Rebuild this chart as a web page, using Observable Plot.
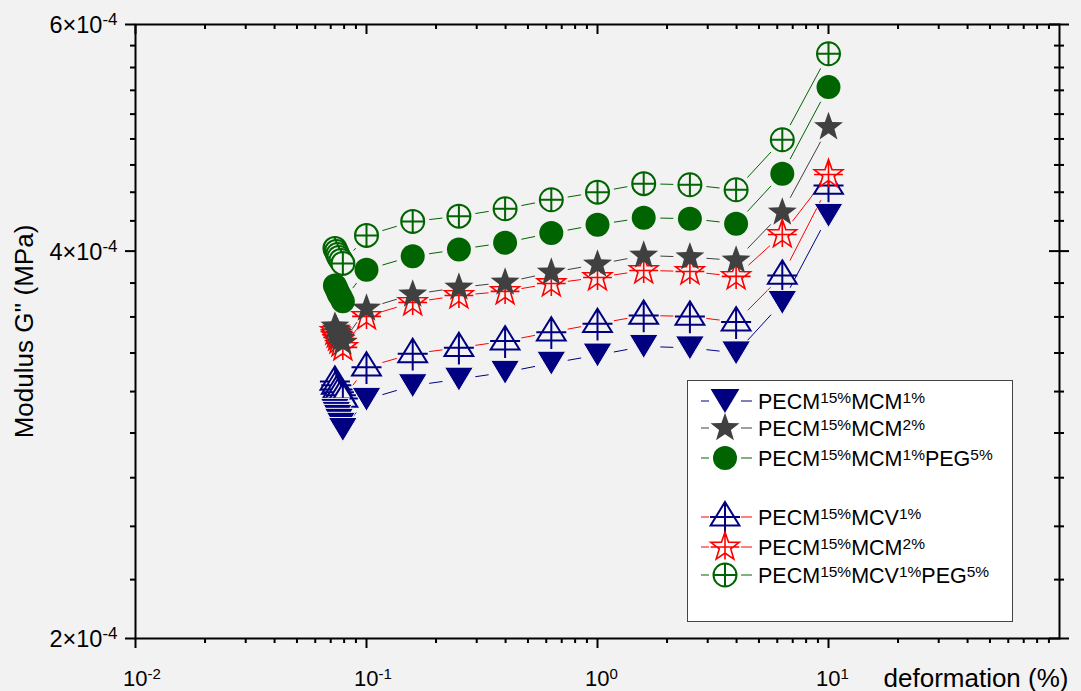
<!DOCTYPE html>
<html>
<head>
<meta charset="utf-8">
<script src="https://cdn.jsdelivr.net/npm/d3@7"></script>
<script src="https://cdn.jsdelivr.net/npm/@observablehq/plot@0.6"></script>
<style>
  html, body { margin: 0; padding: 0; background: #f2f2f2; }
  #chart { width: 1081px; height: 691px; }
</style>
</head>
<body>
<div id="chart"></div>
<script>
// ---------------- data ----------------
const strain = [0.073, 0.074, 0.075, 0.076, 0.0775, 0.079,
  0.1, 0.1585, 0.2512, 0.3981, 0.631, 1, 1.585, 2.512, 3.981, 6.31, 10];

const pecmMcm1 = [3.008e-4, 2.992e-4, 2.976e-4, 2.955e-4, 2.934e-4, 2.907e-4,
  3.068e-4, 3.144e-4, 3.181e-4, 3.220e-4, 3.273e-4, 3.321e-4, 3.373e-4, 3.364e-4, 3.334e-4, 3.649e-4, 4.264e-4];
const pecmMcm2 = [3.496e-4, 3.477e-4, 3.459e-4, 3.440e-4, 3.422e-4, 3.397e-4,
  3.610e-4, 3.702e-4, 3.748e-4, 3.782e-4, 3.850e-4, 3.906e-4, 3.969e-4, 3.957e-4, 3.934e-4, 4.287e-4, 4.994e-4];
const pecmMcm1Peg5 = [3.762e-4, 3.742e-4, 3.722e-4, 3.702e-4, 3.682e-4, 3.656e-4,
  3.869e-4, 3.964e-4, 4.012e-4, 4.061e-4, 4.131e-4, 4.194e-4, 4.246e-4, 4.239e-4, 4.201e-4, 4.594e-4, 5.364e-4];
const pecmMcv1 = [3.168e-4, 3.146e-4, 3.123e-4, 3.107e-4, 3.090e-4, 3.073e-4,
  3.250e-4, 3.329e-4, 3.365e-4, 3.405e-4, 3.460e-4, 3.513e-4, 3.565e-4, 3.559e-4, 3.523e-4, 3.830e-4, 4.499e-4];
const pecmMcm2b = [3.465e-4, 3.446e-4, 3.428e-4, 3.409e-4, 3.391e-4, 3.367e-4,
  3.559e-4, 3.649e-4, 3.695e-4, 3.722e-4, 3.775e-4, 3.816e-4, 3.864e-4, 3.857e-4, 3.823e-4, 4.121e-4, 4.588e-4];
const pecmMcv1Peg5 = [4.019e-4, 3.998e-4, 3.976e-4, 3.955e-4, 3.934e-4, 3.913e-4,
  4.114e-4, 4.218e-4, 4.258e-4, 4.315e-4, 4.385e-4, 4.445e-4, 4.513e-4, 4.504e-4, 4.464e-4, 4.882e-4, 5.694e-4];

const seriesLabels = [
  "PECM^{15%}MCM^{1%}",
  "PECM^{15%}MCM^{2%}",
  "PECM^{15%}MCM^{1%}PEG^{5%}",
  "PECM^{15%}MCV^{1%}",
  "PECM^{15%}MCM^{2%}",
  "PECM^{15%}MCV^{1%}PEG^{5%}"
];

const xMajorTicks = [0.01, 0.1, 1, 10];
const xTickLabels = ["10^{-2}", "10^{-1}", "10^{0}", "10^{1}"];
const xMinorTicks = [0.01, 0.1, 1, 10].flatMap(d => [2,3,4,5,6,7,8,9].map(k => k * d));
const yMajorTicks = [2e-4, 4e-4, 6e-4];
const yTickLabels = ["2×10^{-4}", "4×10^{-4}", "6×10^{-4}"];
const yMinorTicks = [2e-4, 4e-4].flatMap(b => d3.range(1, 9).map(k => b + k * 2e-4 / 9));

// ---------------- styles ----------------
const BG = "#f2f2f2";
const FONT = "'Liberation Sans', Arial, sans-serif";
const NAVY = "#000080", GREY = "#404040", GREEN = "#006400", RED = "#ff0000";

const rad = s => Math.sqrt(s / Math.PI);
function starPath(c, ro, ri) {
  for (let k = 0; k < 10; k++) {
    const a = -Math.PI / 2 + k * Math.PI / 5;
    const rr = k % 2 ? ri : ro;
    const x = rr * Math.cos(a), y = rr * Math.sin(a);
    if (k) c.lineTo(x, y); else c.moveTo(x, y);
  }
  c.closePath();
}
const triDown = {draw(c, s) { const r = rad(s); c.moveTo(-1.2*r, -r); c.lineTo(1.2*r, -r); c.lineTo(0, r); c.closePath(); }};
const triUpPlus = {draw(c, s) { const r = rad(s);
  c.moveTo(0, -1.25*r); c.lineTo(1.2*r, 0.7*r); c.lineTo(-1.2*r, 0.7*r); c.closePath();
  c.moveTo(-1.25*r, 0); c.lineTo(1.25*r, 0); c.moveTo(0, -1.25*r); c.lineTo(0, 1.4*r); }};
const star = {draw(c, s) { const r = rad(s); starPath(c, 1.27*r, 0.52*r); }};
const starPlus = {draw(c, s) { const r = rad(s); starPath(c, 1.25*r, 0.5*r);
  c.moveTo(-1.2*r, 0); c.lineTo(1.2*r, 0); c.moveTo(0, -1.25*r); c.lineTo(0, 1.05*r); }};
const circ = {draw(c, s) { const r = rad(s); c.moveTo(r, 0); c.arc(0, 0, r, 0, 2*Math.PI); }};
const circPlus = {draw(c, s) { const r = rad(s); c.moveTo(r, 0); c.arc(0, 0, r, 0, 2*Math.PI);
  c.moveTo(-r, 0); c.lineTo(r, 0); c.moveTo(0, -r); c.lineTo(0, r); }};

// series in drawing order (open ones first, filled on top); li = legend row
const series = [
  {li: 5, values: pecmMcv1Peg5, symbol: circPlus, r: 11.5, fill: BG, stroke: GREEN, sw: 2, line: GREEN},
  {li: 3, values: pecmMcv1, symbol: triUpPlus, r: 12, fill: BG, stroke: NAVY, sw: 2, line: RED},
  {li: 4, values: pecmMcm2b, symbol: starPlus, r: 12, fill: BG, stroke: RED, sw: 1.6, line: RED},
  {li: 0, values: pecmMcm1, symbol: triDown, r: 12, fill: NAVY, stroke: "#f6f6f6", sw: 1, line: NAVY},
  {li: 1, values: pecmMcm2, symbol: star, r: 12, fill: GREY, stroke: "none", sw: 0, line: GREY},
  {li: 2, values: pecmMcm1Peg5, symbol: circ, r: 12, fill: GREEN, stroke: "none", sw: 0, line: GREEN}
];

const plotW = 1081 - 135 - 22, plotH = 691 - 24 - 53;

const marks = [];
// connecting lines (with gaps around symbols)
for (const s of series) {
  const segs = d3.pairs(strain.map((x, i) => ({x, y: s.values[i]})))
    .map(([a, b]) => ({x1: a.x, y1: a.y, x2: b.x, y2: b.y}));
  marks.push(Plot.arrow(segs, {x1: "x1", y1: "y1", x2: "x2", y2: "y2",
    stroke: s.line, strokeWidth: 1, headLength: 0, inset: 17}));
}
// symbols
for (const s of series) {
  const pts = strain.map((x, i) => ({x, y: s.values[i]}));
  marks.push(Plot.dot(pts, {x: "x", y: "y", symbol: s.symbol, r: s.r,
    fill: s.fill, stroke: s.stroke, strokeWidth: s.sw}));
}
// frame and ticks
marks.push(
  Plot.frame({stroke: "black", strokeWidth: 2}),
  Plot.ruleX(xMajorTicks, {stroke: "black", strokeWidth: 2, insetTop: plotH, insetBottom: -10}),
  Plot.ruleX(xMinorTicks, {stroke: "black", strokeWidth: 2, insetTop: plotH, insetBottom: -5}),
  Plot.ruleX(xMajorTicks, {stroke: "black", strokeWidth: 2, insetTop: 0, insetBottom: plotH - 10}),
  Plot.ruleX(xMinorTicks, {stroke: "black", strokeWidth: 2, insetTop: 0, insetBottom: plotH - 5}),
  Plot.ruleY(yMajorTicks, {stroke: "black", strokeWidth: 2, insetLeft: -10, insetRight: plotW}),
  Plot.ruleY(yMinorTicks, {stroke: "black", strokeWidth: 2, insetLeft: -5, insetRight: plotW}),
  Plot.ruleY(yMajorTicks, {stroke: "black", strokeWidth: 2, insetLeft: plotW - 10, insetRight: -10}),
  Plot.ruleY(yMinorTicks, {stroke: "black", strokeWidth: 2, insetLeft: plotW - 5, insetRight: -5}),
  // tick labels
  Plot.text(xMajorTicks, {x: d => d, frameAnchor: "bottom", text: (d, i) => xTickLabels[i],
    textAnchor: "start", lineAnchor: "middle", dx: -12.5, dy: 40, fontSize: 22, fill: "black"}),
  Plot.text(yMajorTicks, {y: d => d, frameAnchor: "left", text: (d, i) => yTickLabels[i],
    textAnchor: "end", lineAnchor: "middle", dx: -18, dy: 1, fontSize: 23.5, fill: "black"}),
  // axis titles
  Plot.text(["deformation (%)"], {frameAnchor: "bottom-right", text: d => d, textAnchor: "end",
    lineAnchor: "middle", dx: 9, dy: 40, fontSize: 26, fill: "black"}),
  Plot.text(["Modulus G'' (MPa)"], {frameAnchor: "left", text: d => d, rotate: -90, textAnchor: "middle",
    lineAnchor: "middle", dx: -111, fontSize: 26, fill: "black"})
);

const plot = Plot.plot({
  width: 1081, height: 691,
  marginLeft: 135, marginRight: 22, marginTop: 24, marginBottom: 53,
  x: {type: "log", domain: [0.01, 100]},
  y: {type: "log", domain: [2e-4, 6e-4]},
  axis: null,
  style: {background: BG, fontFamily: FONT, overflow: "visible"},
  marks
});

// ---------------- superscripts ----------------
const NS = "http://www.w3.org/2000/svg";
function supify(el, supSize, raise) {
  const s = el.textContent;
  const parts = s.split(/(\^\{[^}]*\})/).filter(p => p);
  el.textContent = "";
  let up = false;
  for (const p of parts) {
    const t = document.createElementNS(NS, "tspan");
    if (p.startsWith("^{")) {
      t.textContent = p.slice(2, -1);
      t.setAttribute("font-size", supSize);
      t.setAttribute("dy", -raise);
      up = true;
    } else {
      t.textContent = p;
      if (up) { t.setAttribute("dy", raise); up = false; }
    }
    el.appendChild(t);
  }
}
plot.querySelectorAll("text").forEach(t => {
  if (!t.textContent.includes("^{")) return;
  if (t.textContent.includes("×")) supify(t, 17, 8);
  else supify(t, 15, 6.5);
});

// ---------------- legend ----------------
const legendRows = [401, 428, 458, 517, 547, 575];
const svg = d3.select(plot);
const lg = svg.append("g").attr("font-family", FONT).attr("text-anchor", "start");
lg.append("rect").attr("x", 687.5).attr("y", 380.5).attr("width", 325).attr("height", 241)
  .attr("fill", "#ffffff").attr("stroke", "#444").attr("stroke-width", 1);
for (const s of series) {
  const y = legendRows[s.li];
  for (const [a, b] of [[701, 709], [741, 752]]) {
    lg.append("line").attr("x1", a).attr("x2", b).attr("y1", y).attr("y2", y)
      .attr("stroke", s.line).attr("stroke-width", 1);
  }
  lg.append("path").attr("transform", `translate(725,${y})`)
    .attr("d", d3.symbol(s.symbol, Math.PI * s.r * s.r)())
    .attr("fill", s.fill === BG ? "#ffffff" : s.fill)
    .attr("stroke", s.stroke === "#f6f6f6" ? "none" : s.stroke).attr("stroke-width", s.sw);
  const t = lg.append("text").attr("x", 758).attr("y", y).attr("dy", "0.36em")
    .attr("text-anchor", "start")
    .attr("font-size", 21.5).attr("fill", "black").text(seriesLabels[s.li]);
  supify(t.node(), 15.5, 6);
}

document.getElementById("chart").appendChild(plot);
</script>
</body>
</html>
